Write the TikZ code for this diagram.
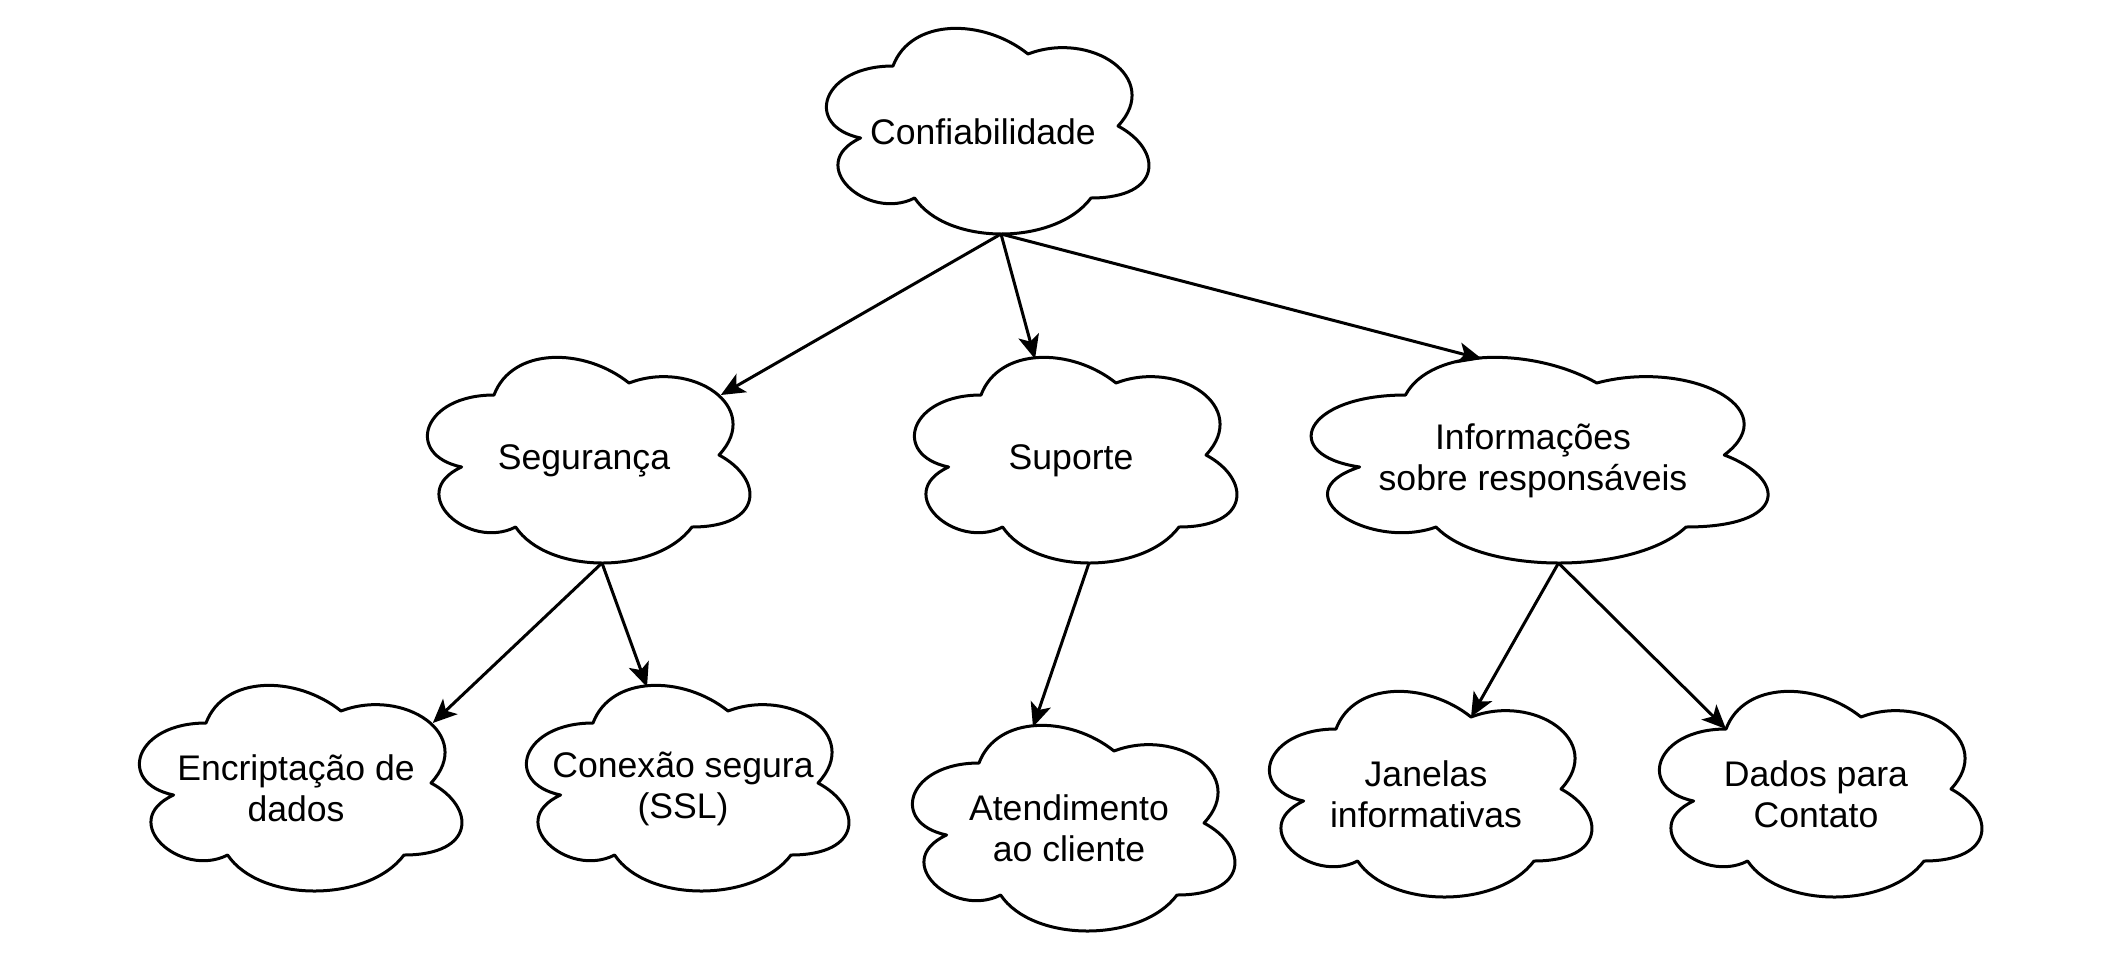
\documentclass[tikz,border=0pt]{standalone}
\usepackage{fontspec}
\setmainfont{Liberation Sans}
\usetikzlibrary{arrows.meta}
\tikzset{
  cloudline/.style={draw=black, line width=1.5pt, fill=white, line join=round},
  cloudtext/.style={align=center, font=\fontsize{17.8pt}{20.6pt}\selectfont, inner sep=0pt},
  connector/.style={draw=black, line width=1.5pt, -{Stealth[length=12pt, width=10.5pt, inset=3pt]}, shorten >=0pt},
}
% #1 name, #2 left, #3 top, #4 width, #5 height, #6 text
\newcommand\mycloud[6]{%
  \begin{scope}[shift={(#2,#3)}, xscale=#4, yscale=#5]
    \draw[cloudline] (0.25,0.25) .. controls (0.05,0.25) and (0,0.5) .. (0.16,0.55)
      .. controls (0,0.66) and (0.18,0.9) .. (0.31,0.8)
      .. controls (0.4,1) and (0.7,1) .. (0.8,0.8)
      .. controls (1,0.8) and (1,0.6) .. (0.875,0.5)
      .. controls (1,0.3) and (0.8,0.1) .. (0.625,0.2)
      .. controls (0.5,0.05) and (0.3,0.05) .. (0.25,0.25) -- cycle;
    \node[cloudtext] (#1) at (0.5,0.523) {#6};
    \coordinate (#1-t) at (0.4,0.1);
    \coordinate (#1-tr) at (0.88,0.25);
    \coordinate (#1-tl) at (0.25,0.25);
    \coordinate (#1-tm) at (0.625,0.2);
    \coordinate (#1-b) at (0.55,0.95);
  \end{scope}%
}
\begin{document}
\begin{tikzpicture}[x=0.5pt, y=-0.5pt]
  \useasboundingbox (0,0) rectangle (2104,960);
  \fill[white] (0,0) rectangle (2104,960);

  \mycloud{conf}{803}{6}{360}{240}{Confiabilidade}
  \mycloud{seg}{404}{335}{360}{240}{Segurança}
  \mycloud{sup}{891}{335}{360}{240}{Suporte}
  \mycloud{info}{1278}{335}{510}{240}{Informações\\sobre responsáveis}
  \mycloud{enc}{116}{663}{360}{240}{Encriptação de\\dados}
  \mycloud{con}{503}{663}{360}{240}{Conexão segura\\(SSL)}
  \mycloud{ate}{889}{703}{360}{240}{Atendimento\\ao cliente}
  \mycloud{jan}{1246}{669}{360}{240}{Janelas\\informativas}
  \mycloud{dad}{1636}{669}{360}{240}{Dados para\\Contato}

  \draw[connector] (conf-b) -- (seg-tr);
  \draw[connector] (conf-b) -- (sup-t);
  \draw[connector] (conf-b) -- (info-t);
  \draw[connector] (seg-b) -- (enc-tr);
  \draw[connector] (seg-b) -- (con-t);
  \draw[connector] (sup-b) -- (ate-t);
  \draw[connector] (info-b) -- (jan-tm);
  \draw[connector] (info-b) -- (dad-tl);
\end{tikzpicture}
\end{document}
